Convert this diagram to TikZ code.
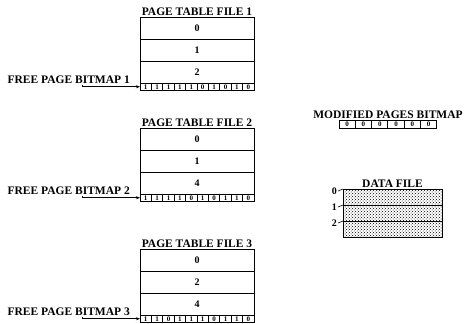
\documentclass[tikz,border=0pt]{standalone}
\usepackage{fontspec}
\setmainfont{Liberation Serif}
\usetikzlibrary{positioning, arrows.meta, patterns}

\begin{document}
\begin{tikzpicture}[x=1pt, y=-1pt,
  heading/.style={font=\bfseries\fontsize{11.5}{13}\selectfont, inner sep=1pt},
  row/.style={draw, line width=0.8pt, minimum width=114pt, minimum height=22pt, inner sep=0pt, outer sep=0pt, font=\bfseries\fontsize{10}{12}\selectfont},
  bit/.style={draw, line width=0.9pt, minimum width=11.4pt, minimum height=7.5pt, inner sep=0pt, outer sep=0pt, font=\bfseries\fontsize{7}{7}\selectfont},
  modbit/.style={bit, minimum width=16.3pt},
  datarow/.style={draw, line width=0.8pt, pattern=crosshatch dots, minimum width=99pt, minimum height=16pt, inner sep=0pt, outer sep=0pt},
  num/.style={font=\bfseries\fontsize{10}{12}\selectfont, inner sep=1pt},
  arrow/.style={-{Stealth[length=4pt, width=3pt]}, line width=0.6pt}
]
  \useasboundingbox (0,0) rectangle (469,324);

  % page tables with their free page bitmaps
  \foreach \n/\ty/\a/\b/\c/\bits in {1/28/0/1/2/{1,1,1,1,1,0,1,0,1,0},
                                     2/139/0/1/4/{1,1,1,1,0,1,0,1,1,0},
                                     3/260/0/2/4/{1,1,0,1,1,1,0,1,1,0}}{
    \node[row] (t\n r0) at (197,\ty) {\a};
    \node[row, below=0pt of t\n r0] (t\n r1) {\b};
    \node[row, below=0pt of t\n r1] (t\n r2) {\c};
    \node[heading, above=0pt of t\n r0] (t\n title) {PAGE TABLE FILE \n};
    \foreach \v [count=\i] in \bits
      \node[bit] (t\n b\i) at ([xshift=\i*11.4pt-5.7pt, yshift=-3.75pt]t\n r2.south west) {\v};
    \node[heading, anchor=base east] (t\n tag) at ([xshift=-9pt]t\n r2.south west) {FREE PAGE BITMAP \n};
    \coordinate (t\n hook) at ([xshift=-49pt, yshift=-2pt]t\n tag.base east);
    \draw[arrow] (t\n hook) |- (t\n b1.west);
  }

  % modified pages bitmap
  \foreach \i in {1,...,6}
    \node[modbit] (m\i) at ({339+16.3*\i-8.15},124.5) {0};
  \node[heading] (modtitle) at (388,115) {MODIFIED PAGES BITMAP};

  % data file
  \node[datarow] (d0) at (392.5,197) {};
  \node[datarow, below=0pt of d0] (d1) {};
  \node[datarow, below=0pt of d1] (d2) {};
  \node[heading, above=0pt of d0] (dtitle) {DATA FILE};
  \foreach \i in {0,1,2}{
    \node[num, anchor=east] (d\i lbl) at ([xshift=-5pt, yshift=-2pt]d\i.north west) {\i};
    \draw[line width=0.6pt] (d\i lbl.east) -- (d\i.north west);
  }
\end{tikzpicture}
\end{document}
